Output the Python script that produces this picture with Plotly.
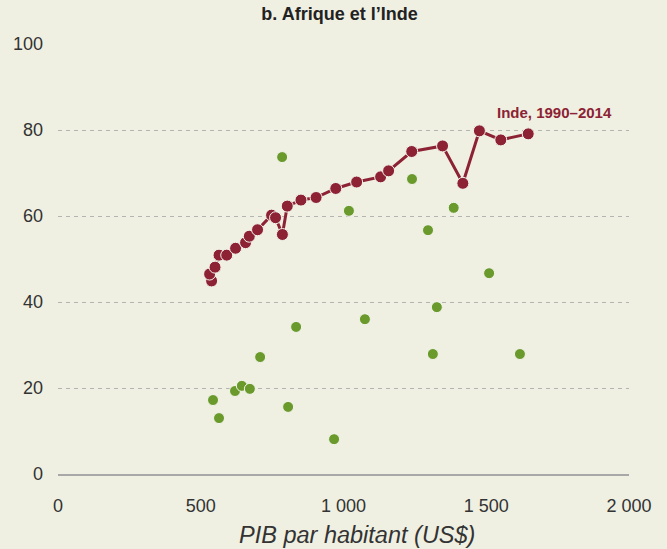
import plotly.graph_objects as go

# India, 1990-2014
india_gdp = [538, 531, 550, 564, 591, 622, 657, 670, 699, 748, 762, 786, 803,
             851, 904, 973, 1046, 1130, 1158, 1239, 1347, 1418, 1476, 1551, 1647]
india_val = [44.9, 46.5, 48.1, 50.9, 50.9, 52.5, 53.8, 55.3, 56.8, 60.2, 59.6, 55.7, 62.3,
             63.7, 64.3, 66.4, 67.9, 69.1, 70.5, 75.0, 76.3, 67.6, 79.8, 77.7, 79.1]

# Africa countries
africa_gdp = [785, 1019, 1240, 1296, 1386, 834, 1075, 1327, 1510, 1313, 1618,
              708, 543, 564, 620, 644, 672, 806, 967]
africa_val = [73.7, 61.2, 68.6, 56.7, 61.9, 34.2, 36.0, 38.8, 46.7, 27.9, 27.9,
              27.2, 17.2, 13.0, 19.3, 20.5, 19.8, 15.6, 8.1]

x_ticks = [0, 500, 1000, 1500, 2000]
x_tick_labels = ["0", "500", "1 000", "1 500", "2 000"]
y_ticks = [0, 20, 40, 60, 80, 100]

RED = "#8C2234"
GREEN = "#6B9A2C"
BG = "#EFF0E2"
FONT = "Liberation Sans, Arial, sans-serif"

fig = go.Figure()
fig.add_trace(go.Scatter(
    x=africa_gdp, y=africa_val, mode="markers",
    marker=dict(size=11, color=GREEN, line=dict(color="#F4F5EC", width=1)),
    showlegend=False, hoverinfo="skip"))
fig.add_trace(go.Scatter(
    x=india_gdp, y=india_val, mode="lines+markers",
    line=dict(color=RED, width=3),
    marker=dict(size=12, color=RED, line=dict(color="#F4F5EC", width=1)),
    showlegend=False, hoverinfo="skip"))

fig.add_annotation(x=india_gdp[-1] - 116, y=india_val[-1] + 5, text="<b>Inde, 1990–2014</b>",
                   showarrow=False, xanchor="left", yanchor="middle",
                   font=dict(family=FONT, size=15, color=RED))

# x-axis title (placed slightly right of centre, as in the original)
fig.add_annotation(xref="paper", yref="paper", x=0.524, y=-0.142,
                   text="<i>PIB par habitant (US$)</i>", showarrow=False,
                   xanchor="center", yanchor="middle",
                   font=dict(family=FONT, size=23.5, color="#333333"))

fig.update_layout(
    width=667, height=549,
    paper_bgcolor=BG, plot_bgcolor=BG,
    margin=dict(l=58, r=38, t=44, b=75, autoexpand=False),
    font=dict(family=FONT, color="#333333"),
    title=dict(text="<b>b. Afrique et l’Inde</b>", x=0.509, xanchor="center",
               y=1 - 14 / 549, yanchor="middle",
               font=dict(family=FONT, size=18, color="#222222")),
    xaxis=dict(range=[0, 2000], tickvals=x_ticks, ticktext=x_tick_labels,
               showgrid=False, zeroline=False, showline=True, linecolor="#A8A8A8",
               linewidth=1.5, ticks="", ticklabelstandoff=15, automargin=False,
               tickfont=dict(size=18, color="#333333")),
    yaxis=dict(range=[0, 100], tickvals=y_ticks, showgrid=True, automargin=False,
               gridcolor="#B4B4B4", griddash="4px,4px", gridwidth=1,
               zeroline=False, showline=False, ticks="", ticklabelstandoff=14,
               tickfont=dict(size=18, color="#333333")),
)

fig.write_html("out.html", config={"displayModeBar": False},
               post_script="document.body.style.margin='0';document.body.style.overflow='hidden';")
